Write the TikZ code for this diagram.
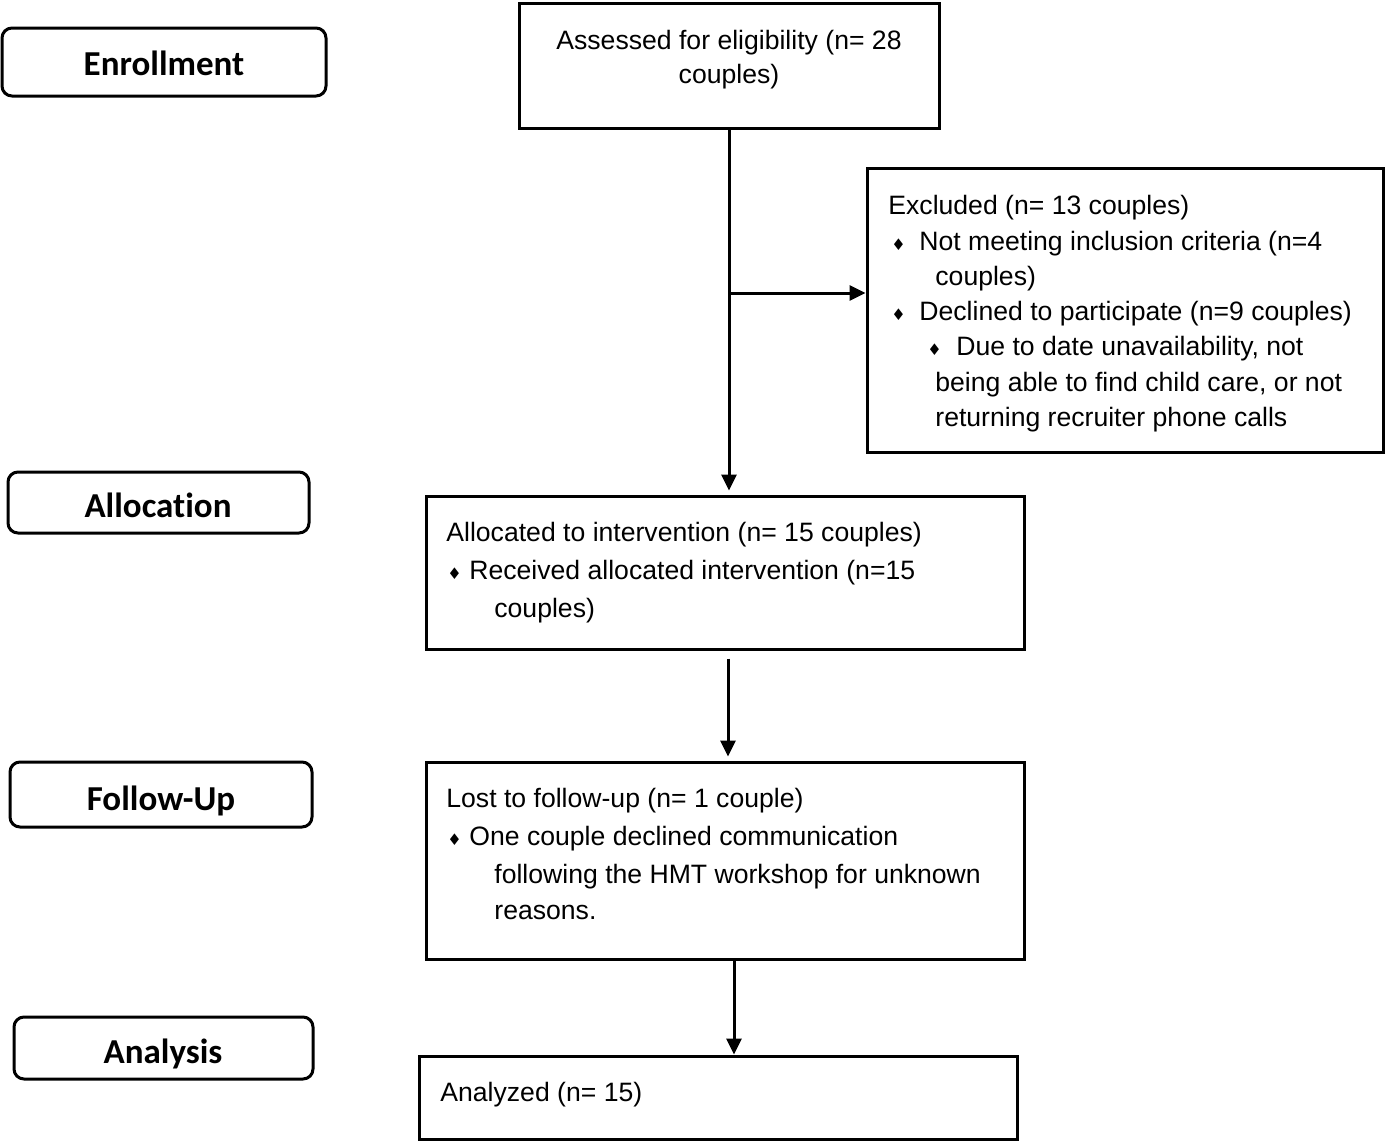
\documentclass[tikz,border=0pt]{standalone}
\usepackage{fontspec}
\setmainfont{Liberation Sans}
\newfontfamily\stagefont[Ligatures=NoCommon]{Carlito}
\newfontfamily\symfont{DejaVu Sans}
\usetikzlibrary{arrows.meta}
\newcommand{\dmd}{{\symfont\fontsize{8}{8}\selectfont\char"2666}}
\tikzset{
  box/.style={draw, line width=1.5pt, inner sep=0pt},
  stage/.style={draw, line width=1.5pt, rounded corners=5pt, inner sep=0pt},
  stagetxt/.style={anchor=base, inner sep=0pt,
    font=\stagefont\bfseries\fontsize{17.5}{20}\selectfont},
  txt/.style={anchor=base west, inner sep=0pt, font=\fontsize{13.3}{17}\selectfont},
  ctxt/.style={anchor=base, inner sep=0pt, font=\fontsize{13.3}{17}\selectfont},
  arr/.style={line width=1.5pt, -{Triangle[length=8pt,width=7.5pt]}}
}
\begin{document}
\begin{tikzpicture}[x=0.5pt,y=-0.5pt]
\useasboundingbox (0,0) rectangle (1386,1141);
% stage labels
\node[stage, minimum width=162pt, minimum height=34pt] (senr) at (164,62) {};
\node[stagetxt] (senrt) at (164,75) {Enrollment};
\node[stage, minimum width=150.5pt, minimum height=30.5pt] (salloc) at (158.5,502.5) {};
\node[stagetxt] (sallt) at (158,517) {Allocation};
\node[stage, minimum width=151pt, minimum height=32.5pt] (sfol) at (161,794.5) {};
\node[stagetxt] (sfolt) at (161,810) {Follow-Up};
\node[stage, minimum width=149.5pt, minimum height=31pt] (sana) at (163.5,1048) {};
\node[stagetxt] (sanat) at (163,1063) {Analysis};
% boxes
\node[box, minimum width=210pt, minimum height=62.5pt] (assess) at (729,65.5) {};
\node[box, minimum width=258pt, minimum height=142pt] (excl) at (1125,310) {};
\node[box, minimum width=299pt, minimum height=76.5pt] (alloc) at (725,572.5) {};
\node[box, minimum width=299pt, minimum height=98.5pt] (lost) at (725,860.5) {};
\node[box, minimum width=299pt, minimum height=41.5pt] (anl) at (718,1097.5) {};
% texts
\node[ctxt] (t1) at (729,49) {Assessed for eligibility (n= 28};
\node[ctxt] (t2) at (729,83) {couples)};
\node[txt] (e1) at (888,214) {Excluded (n= 13 couples)};
\node[txt] (e2b) at (891,250) {\dmd};
\node[txt] (e2) at (919,250) {Not meeting inclusion criteria (n=4};
\node[txt] (e3) at (935,285) {couples)};
\node[txt] (e4b) at (891,320) {\dmd};
\node[txt] (e4) at (919,320) {Declined to participate (n=9 couples)};
\node[txt] (e5b) at (927,355) {\dmd};
\node[txt] (e5) at (956,355) {Due to date unavailability, not};
\node[txt] (e6) at (935,391) {being able to find child care, or not};
\node[txt] (e7) at (935,426) {returning recruiter phone calls};
\node[txt] (a1) at (446,541) {Allocated to intervention (n= 15 couples)};
\node[txt] (a2b) at (447,579) {\dmd};
\node[txt] (a2) at (469,579) {Received allocated intervention (n=15};
\node[txt] (a3) at (494,617) {couples)};
\node[txt] (l1) at (446,807) {Lost to follow-up (n= 1 couple)};
\node[txt] (l2b) at (447,845) {\dmd};
\node[txt] (l2) at (469,845) {One couple declined communication};
\node[txt] (l3) at (494,883) {following the HMT workshop for unknown};
\node[txt] (l4) at (494,919) {reasons.};
\node[txt] (n1) at (440,1101) {Analyzed (n= 15)};
% connectors
\coordinate (br) at (729,293);
\draw[arr] (assess.south) -- ([yshift=2pt]assess.south |- alloc.north);
\draw[arr] (br) -- (br -| excl.west);
\draw[arr] ([xshift=1.5pt,yshift=-4pt]alloc.south) -- ([xshift=1.5pt,yshift=2pt]alloc.south |- lost.north);
\draw[arr] ([xshift=4.5pt]lost.south) -- ([xshift=4.5pt]lost.south |- anl.north);
\end{tikzpicture}
\end{document}
